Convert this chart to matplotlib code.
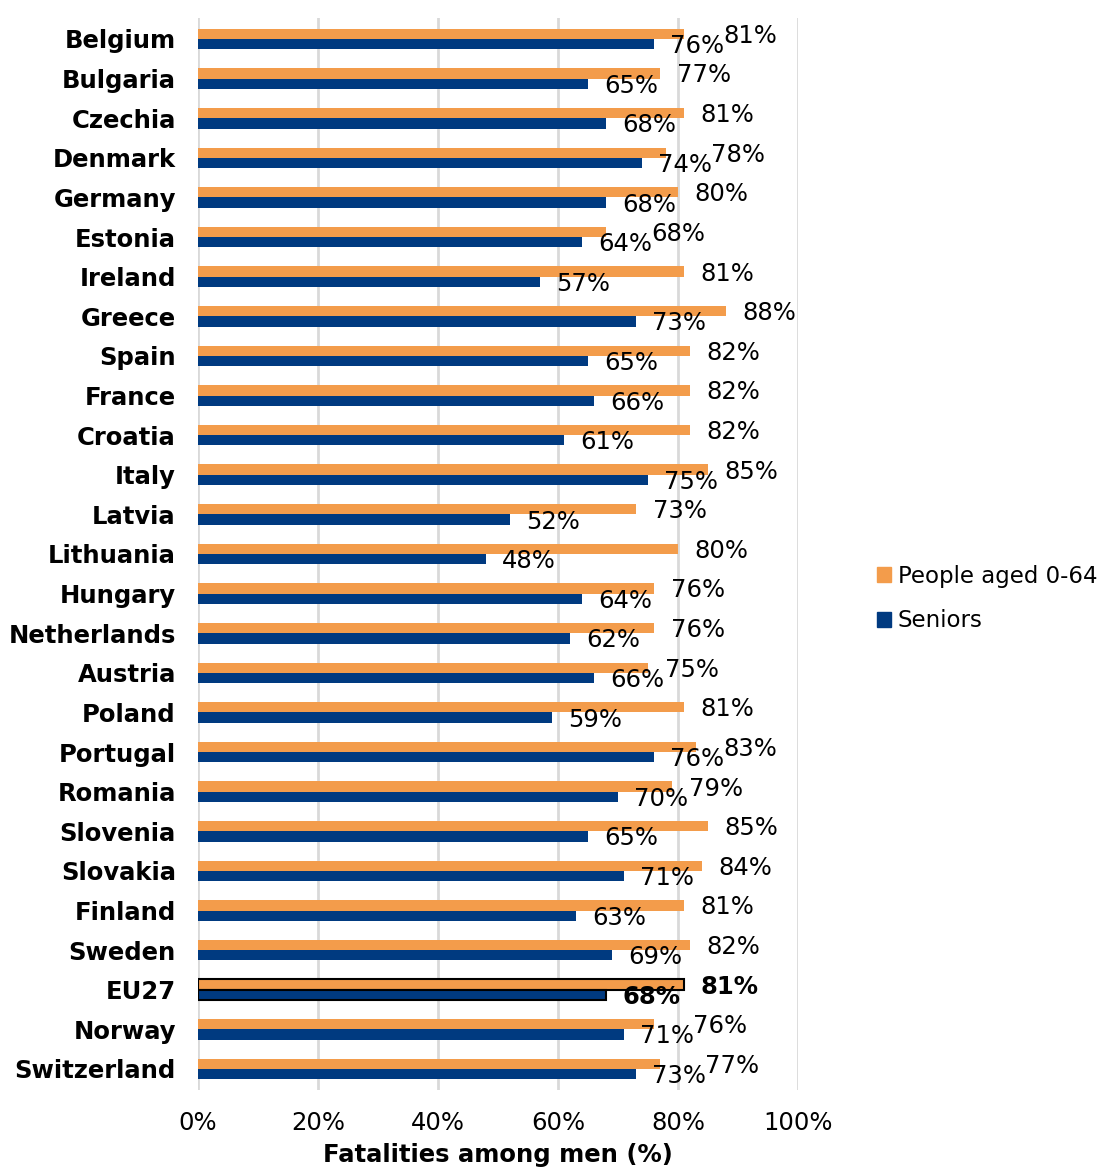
import numpy as np
import matplotlib
matplotlib.use("Agg")
import matplotlib.pyplot as plt
from matplotlib.patches import Patch

# share of road fatalities that are men, by country
countries = ['Belgium', 'Bulgaria', 'Czechia', 'Denmark', 'Germany', 'Estonia',
             'Ireland', 'Greece', 'Spain', 'France', 'Croatia', 'Italy', 'Latvia',
             'Lithuania', 'Hungary', 'Netherlands', 'Austria', 'Poland', 'Portugal',
             'Romania', 'Slovenia', 'Slovakia', 'Finland', 'Sweden', 'EU27',
             'Norway', 'Switzerland']
aged_0_64 = [81, 77, 81, 78, 80, 68, 81, 88, 82, 82, 82, 85, 73, 80, 76, 76, 75,
             81, 83, 79, 85, 84, 81, 82, 81, 76, 77]
seniors = [76, 65, 68, 74, 68, 64, 57, 73, 65, 66, 61, 75, 52, 48, 64, 62, 66,
           59, 76, 70, 65, 71, 63, 69, 68, 71, 73]
x_ticks = [0, 20, 40, 60, 80, 100]

orange = '#F39C4B'
navy = '#003A80'
fs = 17.5

fig = plt.figure(figsize=(11.08, 11.69), dpi=100)
ax = fig.add_axes([0.1787, 0.0676, 0.5415, 0.917])

y = np.arange(len(countries))
h = 0.26
for i, name in enumerate(countries):
    is_eu = (name == 'EU27')
    ec = 'black' if is_eu else 'none'
    lw = 1.5 if is_eu else 0
    ax.barh(y[i] - h / 2, aged_0_64[i], height=h, color=orange, edgecolor=ec, linewidth=lw, zorder=3)
    ax.barh(y[i] + h / 2, seniors[i], height=h, color=navy, edgecolor=ec, linewidth=lw, zorder=3)

    weight = 'bold' if is_eu else 'normal'
    # navy label just right of bar, orange label pushed right if it would collide
    nx = seniors[i] + 2.7
    ox = max(aged_0_64[i] + 2.8, nx + 8.8)
    ax.text(nx, y[i] + h / 2 + 0.05, f'{seniors[i]}%', ha='left', va='center',
            fontsize=fs, fontweight=weight, zorder=4)
    ax.text(ox, y[i] - h / 2 + 0.05, f'{aged_0_64[i]}%', ha='left', va='center',
            fontsize=fs, fontweight=weight, zorder=4)

ax.set_xlim(0, 100)
ax.set_ylim(len(countries) - 0.47, -0.53)
ax.set_xticks(x_ticks)
ax.set_xticklabels([f'{t}%' for t in x_ticks], fontsize=fs)
ax.set_yticks(y)
ax.set_yticklabels(countries, fontsize=fs, fontweight='bold')
ax.tick_params(axis='both', length=0)
ax.tick_params(axis='x', pad=15)
ax.tick_params(axis='y', pad=16)
for s in ax.spines.values():
    s.set_visible(False)
ax.grid(axis='x', color='#d9d9d9', linewidth=2, zorder=0)
ax.set_axisbelow(True)
ax.set_xlabel('Fatalities among men (%)', fontsize=fs, fontweight='bold', labelpad=6)

handles = [Patch(color=orange, label='People aged 0-64'), Patch(color=navy, label='Seniors')]
fig.legend(handles=handles, loc='center left', bbox_to_anchor=(0.7915, 0.488), frameon=False,
           fontsize=16.5, handlelength=0.6, handleheight=0.6, handletextpad=0.3, labelspacing=0.95,
           borderpad=0, borderaxespad=0)

fig.savefig('out.png', dpi=100)
